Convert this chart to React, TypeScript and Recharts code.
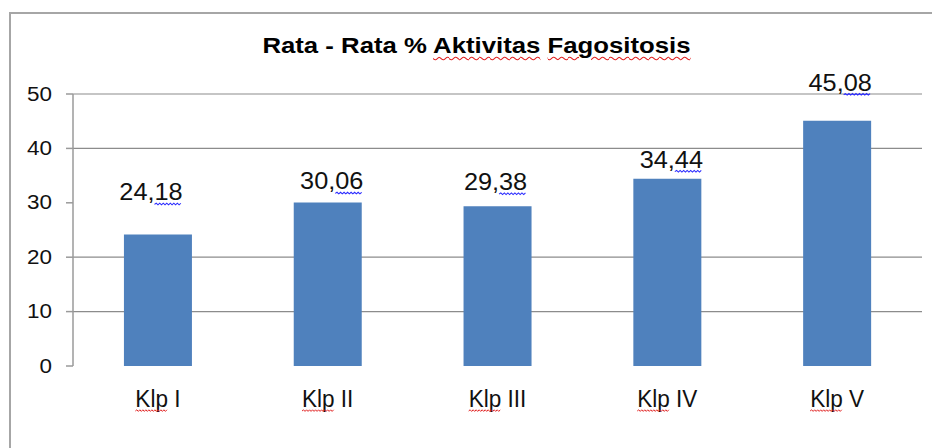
import React, { useLayoutEffect, useRef, useState } from 'react';
import { BarChart, Bar, XAxis, YAxis, CartesianGrid, LabelList, ReferenceLine } from 'recharts';

const titleParts = ['Rata - Rata %', 'Aktivitas', 'Fagositosis'];
const categories = ['Klp I', 'Klp II', 'Klp III', 'Klp IV', 'Klp V'];
const values = [24.18, 30.06, 29.38, 34.44, 45.08];
const yTicks = [0, 10, 20, 30, 40, 50];
const gridValues = [10, 20, 40, 50];
const boundaryTicks = [0, 1, 2, 3, 4, 5];
// the darker line at 30 that only shows to the right of Klp IV
const darkLineValue = 30;
const darkLineSegments = [
  [3.7, 4.3],
  [4.7, 5],
];
// style: offsets (px) of each value label relative to its bar top centre
const labelGaps = [34, 13, 16, 11, 30];
const labelShifts = [-7, 4, -2, 4, 3];

const data = categories.map((name, i) => ({ name, value: values[i] }));

const FONT = '"Liberation Sans", Arial, sans-serif';
const RED_WAVE = { textDecoration: 'underline wavy #e02020', textDecorationThickness: '1px', textUnderlineOffset: '3px' } as const;

function wavePath(x0: number, y: number, w: number) {
  const step = 1.6;
  let d = `M${x0.toFixed(1)},${y}`;
  let up = true;
  for (let x = x0 + step; x <= x0 + w + 0.01; x += step) {
    d += ` L${x.toFixed(1)},${up ? y - 1.2 : y + 0.4}`;
    up = !up;
  }
  return d;
}

const MarkedText = ({
  before,
  marked,
  after,
  fontSize,
  dy,
  waveColor,
}: {
  before: string;
  marked: string;
  after: string;
  fontSize: number;
  dy: number;
  waveColor: string;
}) => {
  const ref = useRef<SVGTextElement>(null);
  const [box, setBox] = useState<{ x: number; w: number } | null>(null);
  useLayoutEffect(() => {
    const el = ref.current;
    if (!el || !marked.length) return;
    try {
      const start = el.getStartPositionOfChar(before.length).x;
      const w = el.getSubStringLength(before.length, marked.length);
      if (!box || Math.abs(box.x - start) > 0.1 || Math.abs(box.w - w) > 0.1) setBox({ x: start, w });
    } catch (e) {
      /* ignore */
    }
  });
  return (
    <>
      <text ref={ref} x={0} y={0} dy={dy} textAnchor="middle" fontSize={fontSize} fill="#111" fontFamily={FONT}>
        {before + marked + after}
      </text>
      {box && <path d={wavePath(box.x, dy + 4, box.w)} stroke={waveColor} strokeWidth={1} fill="none" />}
    </>
  );
};

const YTick = (props: any) => {
  const { x, y, payload } = props;
  return (
    <g transform={`translate(${x},${y}) scale(1.07,1)`}>
      <text x={0} y={0} dy={6.5} textAnchor="end" fontSize={21} fill="#111" fontFamily={FONT}>
        {payload.value}
      </text>
    </g>
  );
};

const XTick = (props: any) => {
  const { x, y, payload } = props;
  const s = String(payload.value);
  const sp = s.indexOf(' ');
  return (
    <g transform={`translate(${x},${y}) scale(0.94,1)`}>
      <MarkedText before="" marked={s.slice(0, sp)} after={s.slice(sp)} fontSize={24} dy={18} waveColor="#e02020" />
    </g>
  );
};

const ValueLabel = (props: any) => {
  const { x, y, width, value, index } = props;
  const cx = Number(x) + Number(width) / 2 + labelShifts[index];
  const by = Number(y) - labelGaps[index];
  const [intPart, decPart] = Number(value).toFixed(2).split('.');
  return (
    <g transform={`translate(${cx},${by}) scale(1.1,1)`}>
      <MarkedText before={intPart + ','} marked={decPart} after="" fontSize={23} dy={0} waveColor="#2a2aff" />
    </g>
  );
};

export default function App() {
  return (
    <div
      style={{
        position: 'absolute',
        left: 0,
        top: 0,
        width: 932,
        height: 448,
        overflow: 'hidden',
        background: '#fff',
        fontFamily: FONT,
      }}
    >
      <div
        style={{
          position: 'absolute',
          left: 9,
          top: 12,
          width: 960,
          height: 480,
          borderTop: '2px solid #a6a6a6',
          borderLeft: '2px solid #a6a6a6',
        }}
      />
      <div
        style={{
          position: 'absolute',
          left: 0,
          width: 953,
          top: 33,
          textAlign: 'center',
          fontWeight: 'bold',
          fontSize: 22,
          lineHeight: 'normal',
          color: '#000',
          whiteSpace: 'nowrap',
          transform: 'scaleX(1.17)',
          transformOrigin: '476.5px 0',
        }}
      >
        {titleParts[0]} <span style={RED_WAVE}>{titleParts[1]}</span>{' '}
        <span style={RED_WAVE}>{titleParts[2]}</span>
      </div>
      <div style={{ position: 'absolute', left: 0, top: 0 }}>
        <BarChart
          width={932}
          height={448}
          data={data}
          margin={{ top: 94, right: 10, bottom: 52, left: 13 }}
          barCategoryGap="30%"
        >
          <CartesianGrid
            horizontal
            vertical={false}
            horizontalValues={gridValues}
            stroke="#8c8c8c"
            strokeWidth={1.2}
            xAxisId="edges"
          />
          <XAxis
            xAxisId="edges"
            type="number"
            domain={[0, 5]}
            ticks={boundaryTicks}
            tick={false}
            tickSize={7}
            height={0}
            stroke="#9a9a9a"
            axisLine={{ stroke: '#9a9a9a', strokeWidth: 1.5 }}
            tickLine={{ stroke: '#9a9a9a', strokeWidth: 1.5 }}
          />
          <XAxis
            xAxisId="cat"
            dataKey="name"
            tickLine={false}
            axisLine={false}
            height={30}
            tickMargin={16}
            tickSize={7}
            tick={<XTick />}
          />
          <YAxis
            domain={[0, 50]}
            ticks={yTicks}
            width={60}
            tickSize={7}
            tickMargin={14}
            axisLine={{ stroke: '#9a9a9a', strokeWidth: 1.5 }}
            tickLine={{ stroke: '#9a9a9a', strokeWidth: 1.5 }}
            tick={<YTick />}
          />
          {darkLineSegments.map(([a, b], i) => (
            <ReferenceLine
              key={i}
              xAxisId="edges"
              segment={[
                { x: a, y: darkLineValue },
                { x: b, y: darkLineValue },
              ]}
              stroke="#7a7a7a"
              strokeWidth={2}
            />
          ))}
          <Bar xAxisId="cat" dataKey="value" fill="#4F81BD" isAnimationActive={false}>
            <LabelList dataKey="value" content={<ValueLabel />} />
          </Bar>
        </BarChart>
      </div>
    </div>
  );
}
